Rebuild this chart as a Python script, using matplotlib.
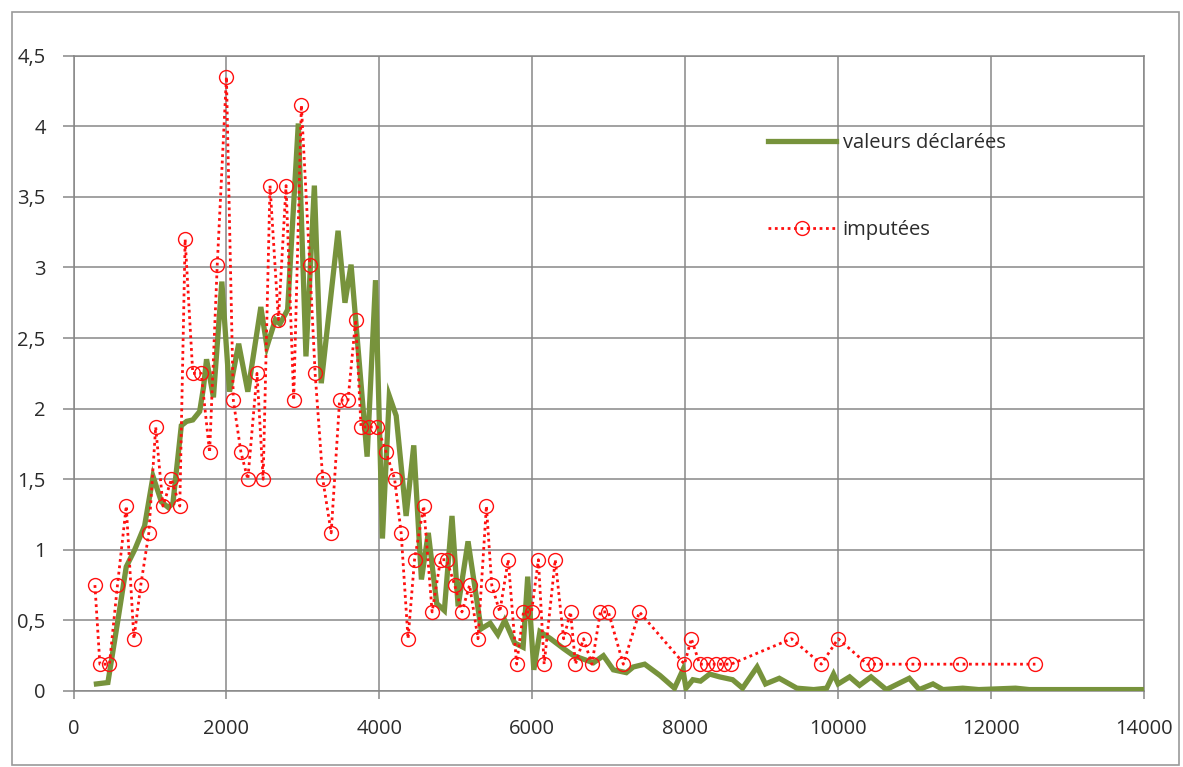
import matplotlib
matplotlib.use("Agg")
import matplotlib.pyplot as plt
from matplotlib.patches import Rectangle

# ---- data ----
declared_x = [300, 450, 580, 690, 800, 930, 1040, 1150, 1240, 1300, 1410, 1480, 1560, 1650, 1700,
              1740, 1830, 1940, 2040, 2160, 2280, 2450, 2530, 2640, 2700, 2800, 2940, 3040, 3150,
              3240, 3460, 3550, 3630, 3840, 3950, 4040, 4130, 4220, 4350, 4450, 4550, 4640, 4750,
              4850, 4950, 5030, 5160, 5330, 5450, 5550, 5640, 5770, 5880, 5940, 6020, 6100, 6240,
              6410, 6540, 6800, 6930, 7060, 7230, 7320, 7470, 7670, 7860, 7970, 8010, 8100, 8200,
              8320, 8450, 8620, 8750, 8940, 9050, 9230, 9460, 9680, 9850, 9940, 10000, 10150,
              10280, 10430, 10630, 10930, 11060, 11240, 11370, 11630, 11840, 12320, 12500, 14000]
declared_y = [0.05, 0.06, 0.50, 0.88, 1.00, 1.17, 1.52, 1.34, 1.30, 1.33, 1.88, 1.91, 1.92, 1.98, 2.15,
              2.35, 2.08, 2.90, 2.12, 2.46, 2.12, 2.72, 2.44, 2.63, 2.60, 2.70, 4.02, 2.37, 3.58,
              2.18, 3.26, 2.75, 3.02, 1.66, 2.91, 1.08, 2.09, 1.95, 1.24, 1.74, 0.79, 1.12, 0.62,
              0.57, 1.24, 0.60, 1.06, 0.44, 0.48, 0.40, 0.50, 0.34, 0.31, 0.81, 0.15, 0.42, 0.37,
              0.30, 0.25, 0.20, 0.25, 0.15, 0.13, 0.17, 0.19, 0.11, 0.02, 0.15, 0.02, 0.08, 0.07,
              0.12, 0.10, 0.08, 0.02, 0.17, 0.05, 0.09, 0.02, 0.01, 0.02, 0.12, 0.05, 0.10,
              0.04, 0.10, 0.01, 0.09, 0.01, 0.05, 0.01, 0.02, 0.01, 0.02, 0.01, 0.01]

imputed_x = [280, 345, 470, 575, 690, 790, 880, 985, 1075, 1170, 1280, 1390, 1460, 1560, 1670, 1780,
             1880, 2000, 2090, 2190, 2280, 2400, 2480, 2570, 2680, 2780, 2880, 2980, 3090, 3160,
             3260, 3370, 3480, 3590, 3690, 3760, 3860, 3975, 4090, 4200, 4285, 4375, 4460, 4580,
             4690, 4800, 4880, 4985, 5080, 5180, 5290, 5400, 5470, 5575, 5685, 5795, 5885, 5990,
             6080, 6155, 6300, 6410, 6500, 6565, 6670, 6780, 6890, 6995, 7190, 7400, 7990, 8080,
             8190, 8290, 8400, 8510, 8600, 9390, 9780, 10000, 10380, 10480, 10980, 11590, 12580]
imputed_y = [0.75, 0.19, 0.19, 0.75, 1.31, 0.37, 0.75, 1.12, 1.87, 1.31, 1.50, 1.31, 3.20, 2.25, 2.25, 1.69,
             3.02, 4.35, 2.06, 1.69, 1.50, 2.25, 1.50, 3.58, 2.63, 3.58, 2.06, 4.15, 3.02, 2.25,
             1.50, 1.12, 2.06, 2.06, 2.63, 1.87, 1.87, 1.87, 1.69, 1.50, 1.12, 0.37, 0.93, 1.31,
             0.56, 0.93, 0.93, 0.75, 0.56, 0.75, 0.37, 1.31, 0.75, 0.56, 0.93, 0.19, 0.56, 0.56,
             0.93, 0.19, 0.93, 0.37, 0.56, 0.19, 0.37, 0.19, 0.56, 0.56, 0.19, 0.56, 0.19, 0.37,
             0.19, 0.19, 0.19, 0.19, 0.19, 0.37, 0.19, 0.37, 0.19, 0.19, 0.19, 0.19, 0.19]

x_ticks = [0, 2000, 4000, 6000, 8000, 10000, 12000, 14000]
x_tick_labels = ["0", "2000", "4000", "6000", "8000", "10000", "12000", "14000"]
y_ticks = [0, 0.5, 1, 1.5, 2, 2.5, 3, 3.5, 4, 4.5]
y_tick_labels = ["0", "0,5", "1", "1,5", "2", "2,5", "3", "3,5", "4", "4,5"]
series_labels = ["valeurs déclarées", "imputées"]

plt.rcParams['font.family'] = ['Open Sans', 'DejaVu Sans']

W, H = 1183, 767
fig = plt.figure(figsize=(W / 100, H / 100), dpi=100)
fig.patch.set_facecolor("white")

grid_c = "#878787"
# outer chart border
fig.patches.append(Rectangle((12 / W, 2 / H), (1179 - 12) / W, (755 - 2) / H,
                             transform=fig.transFigure, fill=False,
                             edgecolor="#9a9a9a", linewidth=1.2))

ax = fig.add_axes([73.5 / W, 1 - 691 / H, (1144 - 73.5) / W, (691 - 55.7) / H])
ax.set_xlim(0, 14000)
ax.set_ylim(0, 4.5)

ax.plot(declared_x, declared_y, color="#77933C", linewidth=3.8, solid_joinstyle="miter",
        label=series_labels[0], zorder=3)
ax.plot(imputed_x, imputed_y, color="#FF1010", linestyle=(0, (1, 1.3)), linewidth=2.0,
        marker="o", markersize=10, markerfacecolor="none", markeredgecolor="#FF1010",
        markeredgewidth=1.0, label=series_labels[1], zorder=4)

ax.set_xticks(x_ticks)
ax.set_xticklabels(x_tick_labels)
ax.set_yticks(y_ticks)
ax.set_yticklabels(y_tick_labels)
ax.grid(True, color=grid_c, linewidth=1.1)
ax.set_axisbelow(True)
for s in ax.spines.values():
    s.set_color(grid_c)
    s.set_linewidth(1.1)
ax.tick_params(axis="both", colors=grid_c, labelcolor="#2b2b2b", labelsize=14.5,
               direction="out", width=1.1)
ax.tick_params(axis="x", length=6, pad=14)
ax.tick_params(axis="y", length=8, pad=12)

leg = ax.legend(loc="upper left", bbox_to_anchor=(768 / W, 1 - 133 / H),
                bbox_transform=fig.transFigure, frameon=False, fontsize=14.5,
                handlelength=3.4, handletextpad=0.3, labelspacing=3.35,
                borderpad=0, borderaxespad=0)
for t in leg.get_texts():
    t.set_color("#2b2b2b")

fig.savefig("out.png", dpi=100, facecolor="white")
